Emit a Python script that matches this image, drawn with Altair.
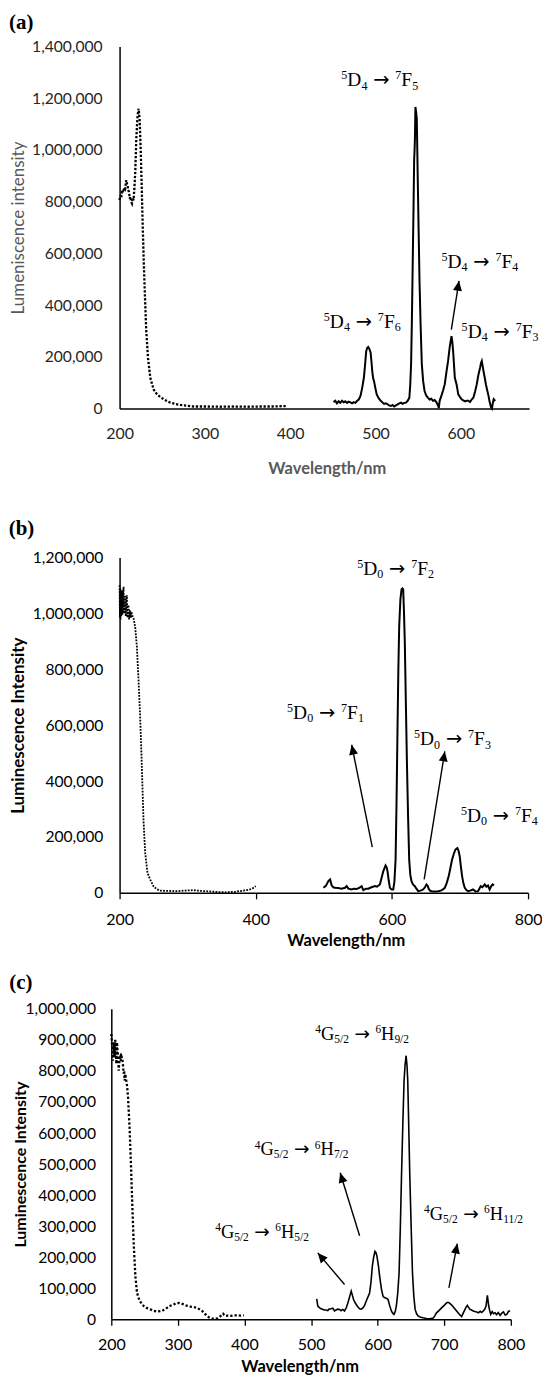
import math
import altair as alt
import pandas as pd

# ---------------- Panel (a) : Tb ----------------
exc_a_x = [200, 201, 202, 203, 204, 205.5, 206.5, 207.8, 208.5, 209.4, 210, 211, 212, 212.5, 213.5, 214.5,
           215.5, 216.4, 217.3, 218.4, 219.6, 220.5, 221.1, 222.3, 223.5, 224.7, 225.8, 227, 228.2, 229.8,
           231.3, 233.3, 236, 239.9, 243.9, 247.8, 251.7, 255.6, 259.5, 265, 271.3, 279, 286.9, 295, 302.6,
           318, 333.9, 350, 365.2, 380, 396.6]
exc_a_k = [806, 825, 815, 845, 835, 855, 850, 883, 870, 864, 845, 838, 812, 819, 800, 793,
           815, 806, 850, 915, 1043, 1100, 1133, 1159, 1120, 1005, 876, 722, 581, 427,
           299, 196, 119, 74, 55, 44, 36, 29, 23, 18, 14, 11, 8, 8, 8,
           7, 8, 7, 8, 8, 10]
em_a_x = [450.8, 452.8, 454.8, 456.8, 458.7, 460.7, 462.7, 464.6, 466.6, 468.6, 470.6, 472.5, 474.5, 476.5,
          478.5, 480.4, 482.4, 484.4, 486.4, 487.8, 489.1, 490.3, 491.5, 492.9, 494.3, 495.3, 496.2, 497.2,
          498.2, 499.8, 501.4, 503.7, 506.1, 508.1, 510, 512, 514, 516, 518, 520, 521.9, 524, 526, 528, 529.8,
          531.8, 533.7, 535.7, 537.7, 539.7, 540.7, 541.7, 542.6, 543.6, 544.6, 545.3, 545.8, 546.2, 546.8,
          547.5, 548.4, 549.6, 550.6, 551.6, 552.9, 554.3, 555.9, 557.5, 559.5, 561.4, 563.4, 565.4, 567.3,
          569.3, 571.3, 573.3, 574.2, 575.2, 577.2, 579.2, 581.2, 583.1, 585.1, 587.1, 589.1, 590, 591, 593,
          595, 596, 597, 599, 600.9, 602.9, 604.9, 606.8, 608.8, 610.8, 612.7, 614.7, 616.7, 618.7, 620.6,
          622.6, 623.6, 624.6, 625.6, 626.6, 628, 629.4, 631, 632.5, 633.5, 634.5, 635.5, 636.5, 637.5, 638.5,
          639.5, 640.4]
em_a_k = [25, 30, 20, 28, 22, 30, 24, 28, 22, 27, 24, 20, 25, 22,
          30, 35, 49, 80, 120, 170, 222, 235, 238, 230, 216, 180, 145, 118,
          107, 80, 55, 40, 30, 24, 18, 20, 17, 12, 10, 14, 8, 12, 16, 20, 23,
          18, 22, 23, 30, 42, 90, 170, 330, 556, 780, 960, 1000, 1040, 1166,
          1150, 1120, 877, 680, 492, 320, 171, 105, 68, 50, 42, 35, 38, 30,
          33, 25, 12, 2, 30, 49, 70, 94, 140, 184, 240, 280, 260, 222, 119,
          94, 75, 55, 45, 36, 32, 28, 30, 30, 25, 35, 42, 65, 94, 130,
          158, 175, 184, 165, 145, 120, 94, 70, 49, 30, 17, 5, 0, 20, 36,
          32, 35]
lab_a_text = ["⁵D₄ → ⁷F₅", "⁵D₄ → ⁷F₄", "⁵D₄ → ⁷F₆", "⁵D₄ → ⁷F₃"]
lab_a_x = [505, 622.3, 484.5, 646]
lab_a_y = [1270000, 570000, 337000, 298000]
arr_a_x = [588.9]
arr_a_y = [305000]
arr_a_x2 = [597.9]
arr_a_y2 = [494000]

# ---------------- Panel (b) : Eu ----------------
exc_b_x = [200, 200.5, 201, 201.5, 202, 202.5, 203.4, 204, 205, 205.9, 206.5, 207.3, 208.3, 209, 210, 210.7,
           211.5, 212.3, 213.2, 214, 215, 215.6, 216.5, 217, 218, 219, 220.5, 222.9, 225.4, 227.8, 230.2,
           232.7, 235.1, 237.6, 241, 244.9, 249.8, 254, 259.5, 270, 283.9, 295, 308.3, 320, 332.7, 345,
           357.1, 370, 381.5, 391.2, 396, 400]
exc_b_k = [1101, 985, 1090, 978, 1075, 990, 1083, 995, 1070, 1095, 1000, 1060, 1060, 990, 1050, 1065,
           985, 1030, 1024, 978, 1010, 1012, 985, 1005, 1000, 990, 982, 952, 881, 762, 631,
           452, 262, 143, 71, 48, 24, 14, 8, 7, 6, 8, 9.5, 7, 5, 3,
           2, 4, 8, 12, 17, 24]
em_b_x = [499.4, 503, 506.7, 509.2, 511.6, 514, 516.5, 521, 526, 531.1, 533.6, 536, 540.9, 544, 548.2, 552,
          555.6, 558, 562, 565.3, 570, 575.1, 578, 582.4, 585, 587.3, 590.7, 592.2, 593.6, 595.3, 597.1,
          599.5, 602, 603.7, 605.4, 606.8, 608.3, 609.5, 610.7, 612.5, 614.2, 615.6, 616.6, 617.8, 619,
          620.5, 622, 623.7, 625.4, 627, 628.8, 631, 633.7, 636, 638.6, 642, 645.9, 648.5, 650.8, 652.5,
          654.2, 656, 658.1, 663, 667.9, 672, 675, 677.7, 680.5, 683.5, 686, 688.4, 691, 693.3, 696.2,
          698, 699.6, 701.3, 703.1, 705, 707, 709.5, 711.8, 715, 719.2, 723, 726.5, 728.5, 730.4, 733,
          736.3, 738.7, 741.2, 743.6, 746, 748, 749.9]
em_b_k = [18, 25, 42, 48, 26, 20, 18, 17, 15, 18, 24, 15, 12, 15, 14, 18,
          24, 10, 15, 15, 20, 24, 22, 30, 55, 77, 98, 92, 77, 45, 18,
          12, 12, 40, 119, 320, 595, 800, 952, 1050, 1086, 1089, 1086, 1000, 893,
          680, 476, 280, 119, 65, 42, 30, 24, 15, 6, 8, 12, 20, 30, 25,
          14, 8, 6, 5, 6, 8, 12, 18, 35, 60, 90, 119, 140, 155, 160,
          150, 131, 95, 60, 35, 18, 10, 6, 8, 12, 5, 6, 15, 24, 20,
          30, 22, 26, 12, 24, 30, 26]
lab_b_text = ["⁵D₀ → ⁷F₂", "⁵D₀ → ⁷F₁", "⁵D₀ → ⁷F₃", "⁵D₀ → ⁷F₄"]
lab_b_x = [605.5, 502.5, 689, 757.8]
lab_b_y = [1160000, 645000, 551000, 278000]
arr_b_x = [571.2, 647.4]
arr_b_y = [164000, 48000]
arr_b_x2 = [540.9, 677.7]
arr_b_y2 = [530000, 506000]

# ---------------- Panel (c) : Sm ----------------
exc_c_x = [200, 201, 202, 202.5, 203.5, 204.2, 205, 205.8, 206.5, 207.5, 208.5, 209.2, 210, 211, 212.5, 213.5,
           214.5, 215.5, 216.5, 217.5, 218.5, 219.3, 220, 221, 222, 223.6, 225.1, 227.6, 229.6, 231.6, 233.6,
           236.1, 238.6, 242.6, 248.6, 253, 258.7, 263, 268.7, 276.2, 283.7, 288, 293.7, 297, 301.3, 305,
           308.8, 313, 318.8, 323, 328.8, 332, 336.4, 340, 343.9, 347, 351.4, 355, 358.9, 361, 363.9, 366,
           367.9, 369.5, 371.4, 375, 379, 384, 389, 394, 399]
exc_c_k = [919, 887, 850, 833, 892, 860, 844, 900, 887, 823, 892, 870, 855, 801, 839, 845,
           833, 845, 839, 820, 791, 800, 769, 790, 775, 753, 716, 609, 491, 363, 246,
           139, 85, 59, 43, 37, 32, 28, 25, 27, 37, 43, 48, 52, 53, 51,
           48, 44, 41, 40, 37, 33, 27, 19, 11, 6, 2, 2, 3, 6, 10, 16,
           18, 14, 11, 12, 11, 13, 13, 12, 13]
em_c_x = [508.5, 509.3, 510.1, 512.5, 515.1, 518, 520, 522.6, 525, 527, 530.2, 532.6, 535.2, 537.5, 540, 542.7,
          545, 547.5, 550.3, 553, 555.3, 557.8, 560.3, 562, 563.8, 565.8, 567.8, 570.4, 572.9, 575.4, 577.9,
          580.4, 582.9, 585.4, 587.9, 590, 592, 594, 596, 597.5, 599, 601, 603, 605.5, 608, 610, 612.1, 614,
          615.6, 618, 620.6, 622.6, 624.6, 626.4, 628.1, 630.2, 632.2, 634, 635.7, 637.7, 639.7, 641.2, 642.7,
          644, 645.2, 646.7, 648.2, 650.3, 652.3, 654.3, 656.3, 658.5, 660.8, 664.5, 668.3, 673, 678.4, 683.4,
          686, 688.4, 692, 696, 700, 703.5, 705.5, 707.5, 710, 712.5, 715.5, 718.6, 722, 726.1, 728.5, 731.2,
          733, 734.7, 736.7, 738.7, 741, 743.7, 746, 748.5, 751.3, 754, 756, 758.8, 761, 762.8, 763.8, 764.8,
          765.8, 766.8, 768.3, 769.8, 772, 774, 776.4, 778.5, 781, 783.9, 786.5, 789, 791.5, 794, 796.5, 799]
em_c_k = [66, 55, 43, 38, 34, 32, 30, 30, 28, 33, 34, 36, 27, 30, 33, 32,
          28, 32, 27, 38, 53, 72, 91, 78, 64, 55, 48, 40, 34, 33, 37,
          45, 59, 72, 85, 120, 171, 200, 219, 215, 203, 175, 139, 100, 75, 70, 69, 67,
          64, 45, 27, 20, 16, 25, 43, 85, 150, 290, 449, 620, 769, 820, 849,
          820, 769, 620, 470, 300, 150, 75, 32, 18, 11, 7, 5, 3, 2, 4,
          12, 21, 28, 37, 45, 53, 55, 53, 48, 43, 35, 27, 18, 9, 20, 32,
          40, 45, 38, 32, 30, 27, 25, 24, 21, 26, 22, 27, 33, 43, 60, 77,
          60, 43, 28, 16, 25, 18, 21, 15, 22, 13, 20, 24, 14, 16, 26, 27]
lab_c_text = ["⁴G₅/₂ → ⁶H₉/₂", "⁴G₅/₂ → ⁶H₇/₂", "⁴G₅/₂ → ⁶H₅/₂", "⁴G₅/₂ → ⁶H₁₁/₂"]
lab_c_x = [576.7, 485.8, 426.4, 744.3]
lab_c_y = [920000, 548000, 283000, 340000]
arr_c_x = [550.3, 572.9, 707.0]
arr_c_y = [112000, 269000, 101000]
arr_c_x2 = [510.1, 543.7, 719.6]
arr_c_y2 = [214000, 472000, 244000]

ARROW_PATH = "M0,0L0.45,1L-0.45,1Z"
SUP = "⁰¹²³⁴⁵⁶⁷⁸⁹"
SUB = "₀₁₂₃₄₅₆₇₈₉"
# Times / Liberation Serif advance widths (em)
ADV = {"D": 0.722, "F": 0.556, "G": 0.722, "H": 0.722, "/": 0.278}


def split_label(s):
    """Split a term-symbol label into runs of (kind, text)."""
    runs = []
    prev = None
    for ch in s:
        if ch == " ":
            continue
        if ch in SUP:
            kind, c = "sup", str(SUP.index(ch))
        elif ch in SUB:
            kind, c = "sub", str(SUB.index(ch))
        elif ch == "/" and prev == "sub":
            kind, c = "sub", "/"
        elif ch == "→":
            kind, c = "arrow", ch
        else:
            kind, c = "main", ch
        if runs and runs[-1][0] == kind and kind != "arrow":
            runs[-1] = (kind, runs[-1][1] + c)
        else:
            runs.append((kind, c))
        prev = kind
    return runs


def label_pieces(texts, xs, ys, fs, pxx, pxy):
    small = 0.62 * fs
    rows, arrows = [], []
    for s, cx, cy in zip(texts, xs, ys):
        runs = split_label(s)
        widths = []
        for kind, t in runs:
            if kind == "arrow":
                widths.append(0.838 * fs + 2 * 0.3 * fs)
            else:
                size = fs if kind == "main" else small
                widths.append(sum(ADV.get(c, 0.5) for c in t) * size)
        total = sum(widths)
        xpos = -total / 2
        base = 0.331 * fs  # baseline below the label centre (px)
        for (kind, t), w in zip(runs, widths):
            if kind == "arrow":
                ax = xpos + 0.3 * fs
                arrows.append({"wl": cx + ax / pxx, "I": cy - base / pxy, "t": t, "fs": fs})
            else:
                size = fs if kind == "main" else small
                off = {"main": 0.0, "sup": -0.36 * fs, "sub": 0.17 * fs}[kind]
                rows.append({"wl": cx + xpos / pxx, "I": cy - (base + off) / pxy, "t": t, "fs": size})
            xpos += w
    return pd.DataFrame(rows), pd.DataFrame(arrows)


def panel(p):
    W, H = p["width"], p["height"]
    xmin, xmax = p["xdomain"]
    ymax = p["ymax"]
    pxx = W / (xmax - xmin)
    pxy = H / ymax

    xaxis = alt.Axis(
        values=p["xticks"], format="d", grid=False,
        labelFont="Lato", labelFontSize=16, labelColor=p["labcolor"],
        labelPadding=p["xlabpad"], labelFlush=False, labelOverlap=False,
        ticks=p["xticksOn"], tickSize=p["tickSize"], tickColor="black", tickWidth=1.3,
        domainColor="black", domainWidth=1.5,
        title="Wavelength/nm", titleFont="Lato", titleFontSize=16.5, titleFontWeight="bold",
        titleColor=p["xtitlecolor"], titleX=p["xtitleX"], titleY=p["xtitleY"],
        titleAlign="center", titleBaseline="middle",
    )
    yaxis = alt.Axis(
        values=p["yticks"], format=",d", grid=False,
        labelFont="Lato", labelFontSize=15.7, labelColor=p["labcolor"],
        labelPadding=p["ylabpad"], labelFlush=False, labelOverlap=False,
        ticks=False, tickSize=0,
        domainColor="black", domainWidth=1.5,
        title=p["ytitle"], titleFont="Lato", titleFontSize=p["ytitlesize"],
        titleFontWeight=p["ytitleweight"], titleColor=p["ytitlecolor"],
        titleX=p["ytitleX"], titleY=H / 2, titleAngle=270,
        titleAlign="center", titleBaseline="middle",
    )
    xs = alt.Scale(domain=[xmin, xmax], nice=False, zero=False)
    ys = alt.Scale(domain=[0, ymax], nice=False, zero=True)
    X = alt.X("wl:Q", scale=xs, axis=xaxis)
    Y = alt.Y("I:Q", scale=ys, axis=yaxis)

    exc = pd.DataFrame({"wl": p["exc_x"], "I": [v * 1000 for v in p["exc_k"]]})
    em = pd.DataFrame({"wl": p["em_x"], "I": [v * 1000 for v in p["em_k"]]})

    exc_line = alt.Chart(exc).mark_line(
        color="black", strokeWidth=p["dotw"], strokeDash=p["dash"], strokeCap="butt"
    ).encode(x=X, y=Y)
    em_line = alt.Chart(em).mark_line(color="black", strokeWidth=p["emw"]).encode(x=X, y=Y)

    angs = []
    for x1, y1, x2, y2 in zip(p["arr_x"], p["arr_y"], p["arr_x2"], p["arr_y2"]):
        dxp = (x2 - x1) * pxx
        dyp = -(y2 - y1) * pxy
        angs.append(math.degrees(math.atan2(dxp, -dyp)) % 360)
    arr = pd.DataFrame({"wl": p["arr_x"], "I": p["arr_y"], "wl2": p["arr_x2"], "I2": p["arr_y2"], "ang": angs})
    rules = alt.Chart(arr).mark_rule(color="black", strokeWidth=1.4).encode(
        x=X, y=Y, x2="wl2:Q", y2="I2:Q")
    heads = alt.Chart(arr).mark_point(
        shape=ARROW_PATH, filled=True, color="black", opacity=1, size=400, strokeWidth=0
    ).encode(x=alt.X("wl2:Q", scale=xs, axis=xaxis),
             y=alt.Y("I2:Q", scale=ys, axis=yaxis),
             angle=alt.Angle("ang:Q", scale=None))

    pieces, arrows = label_pieces(p["lab_text"], p["lab_x"], p["lab_y"], p["labsize"], pxx, pxy)
    texts = alt.Chart(pieces).mark_text(
        font="Liberation Serif", color="black", align="left", baseline="alphabetic"
    ).encode(x=X, y=Y, text="t:N", size=alt.Size("fs:Q", scale=None, legend=None))
    arrow_txt = alt.Chart(arrows).mark_text(
        font="DejaVu Sans", color="black", align="left", baseline="alphabetic"
    ).encode(x=X, y=Y, text="t:N", size=alt.Size("fs:Q", scale=None, legend=None))

    tag = alt.Chart(pd.DataFrame({"t": [p["tag"]]})).mark_text(
        font="Liberation Serif", fontSize=21, fontWeight="bold", color="black",
        align="left", baseline="middle"
    ).encode(x=alt.value(p["tagX"]), y=alt.value(p["tagY"]), text="t:N")

    return alt.layer(exc_line, em_line, rules, heads, texts, arrow_txt, tag).properties(width=W, height=H)


pa = panel(dict(
    width=411, height=363.5, xdomain=[200, 680], ymax=1400000,
    xticks=[200, 300, 400, 500, 600], yticks=list(range(0, 1400001, 200000)),
    labcolor="#262626", xlabpad=17.5, xticksOn=False, tickSize=0,
    xtitlecolor="#595959", xtitleX=208, xtitleY=59.7,
    ylabpad=17.5, ytitle="Lumeniscence intensity", ytitlesize=17, ytitleweight="normal",
    ytitlecolor="#595959", ytitleX=-101.8,
    exc_x=exc_a_x, exc_k=exc_a_k, em_x=em_a_x, em_k=em_a_k,
    dotw=2.3, dash=[2.3, 1.7], emw=2,
    arr_x=arr_a_x, arr_y=arr_a_y, arr_x2=arr_a_x2, arr_y2=arr_a_y2,
    lab_x=lab_a_x, lab_y=lab_a_y, lab_text=lab_a_text, labsize=19.5,
    tag="(a)", tagX=-111, tagY=-23,
))

pb = panel(dict(
    width=410, height=336.6, xdomain=[200, 800], ymax=1200000,
    xticks=[200, 400, 600, 800], yticks=list(range(0, 1200001, 200000)),
    labcolor="black", xlabpad=12.5, xticksOn=True, tickSize=6,
    xtitlecolor="black", xtitleX=227, xtitleY=47.7,
    ylabpad=16.8, ytitle="Luminescence Intensity", ytitlesize=17, ytitleweight="bold",
    ytitlecolor="black", ytitleX=-101.5,
    exc_x=exc_b_x, exc_k=exc_b_k, em_x=em_b_x, em_k=em_b_k,
    dotw=1.8, dash=[1.8, 1.3], emw=2,
    arr_x=arr_b_x, arr_y=arr_b_y, arr_x2=arr_b_x2, arr_y2=arr_b_y2,
    lab_x=lab_b_x, lab_y=lab_b_y, lab_text=lab_b_text, labsize=19.5,
    tag="(b)", tagX=-111.3, tagY=-28.2,
))

pc = panel(dict(
    width=401, height=311.7, xdomain=[200, 800], ymax=1000000,
    xticks=[200, 300, 400, 500, 600, 700, 800], yticks=list(range(0, 1000001, 100000)),
    labcolor="black", xlabpad=11, xticksOn=True, tickSize=6,
    xtitlecolor="black", xtitleX=189, xtitleY=47.3,
    ylabpad=15.8, ytitle="Luminescence Intensity", ytitlesize=16, ytitleweight="bold",
    ytitlecolor="black", ytitleX=-91.2,
    exc_x=exc_c_x, exc_k=exc_c_k, em_x=em_c_x, em_k=em_c_k,
    dotw=2.3, dash=[2.3, 2.0], emw=1.6,
    arr_x=arr_c_x, arr_y=arr_c_y, arr_x2=arr_c_x2, arr_y2=arr_c_y2,
    lab_x=lab_c_x, lab_y=lab_c_y, lab_text=lab_c_text, labsize=18.5,
    tag="(c)", tagX=-102.5, tagY=-25.8,
))

# a 1-px invisible spacer lets panel (c) sit a little further left than (a) and (b)
spacer = alt.Chart(pd.DataFrame({"s": [0]})).mark_rule(strokeOpacity=0, strokeWidth=0).encode(
    x=alt.value(0), x2=alt.value(1), y=alt.value(0)
).properties(width=1, height=1)

row_c = alt.concat(spacer, pc, columns=2, spacing=-112.3, align="none")
inner = alt.concat(pb, row_c, columns=1, spacing=23, align="none")
chart = alt.concat(pa, inner, columns=1, spacing=41, align="none").properties(
    padding={"left": 0, "top": 2, "right": 0, "bottom": 0},
    background="white",
).configure_view(stroke=None)

chart.save("out.html", embed_options={"renderer": "svg", "actions": False})
